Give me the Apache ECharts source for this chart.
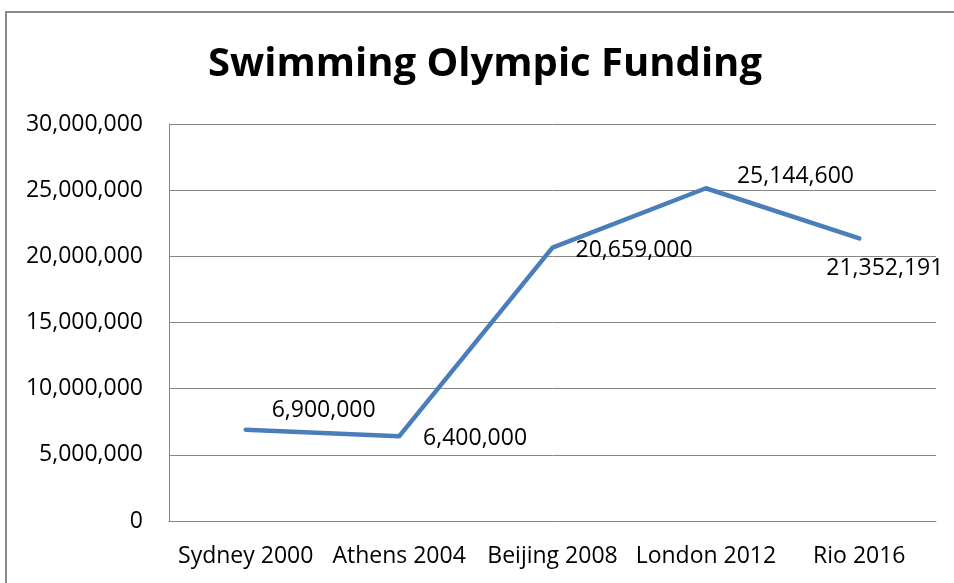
<!DOCTYPE html>
<html>
<head>
<meta charset="utf-8">
<script src="https://cdn.jsdelivr.net/npm/echarts@6/dist/echarts.min.js"></script>
<style>
  html, body { margin: 0; padding: 0; background: #fff; }
  #chart { width: 954px; height: 583px; }
</style>
</head>
<body>
<div id="chart"></div>
<script>
// Olympic cycles and swimming funding (GBP)
const games = ['Sydney 2000', 'Athens 2004', 'Beijing 2008', 'London 2012', 'Rio 2016'];
const funding = [6900000, 6400000, 20659000, 25144600, 21352191];
// Where each value label sits relative to its point
const labelOffsets = [[25, -19], [23, 2], [22, 3], [30, -12], [-34, 30]];

const fmt = v => Number(v).toLocaleString('en-US');
const font = '"Open Sans", "DejaVu Sans", sans-serif';

const chart = echarts.init(document.getElementById('chart'), null, { renderer: 'canvas' });
chart.setOption({
  animation: false,
  backgroundColor: '#ffffff',
  title: {
    text: 'Swimming Olympic Funding',
    left: 208,
    top: 45,
    padding: 0,
    textStyle: { fontFamily: font, fontSize: 40, fontWeight: 'bold', color: '#000' }
  },
  graphic: [{
    type: 'rect',
    shape: { x: 6, y: 12, width: 1000, height: 700 },
    style: { fill: 'none', stroke: '#8a8a8a', lineWidth: 2 },
    silent: true
  }],
  grid: { left: 169, right: 18, top: 124, bottom: 62, containLabel: false },
  xAxis: {
    type: 'category',
    data: games,
    boundaryGap: true,
    axisLine: { lineStyle: { color: '#868686', width: 1 } },
    axisTick: { show: false },
    axisLabel: { color: '#000', fontFamily: font, fontSize: 23, margin: 24, interval: 0 }
  },
  yAxis: {
    type: 'value',
    min: 0,
    max: 30000000,
    interval: 5000000,
    axisLine: { show: true, lineStyle: { color: '#868686', width: 1 } },
    axisTick: { show: false },
    splitLine: { lineStyle: { color: '#868686', width: 1 } },
    axisLabel: { color: '#000', fontFamily: font, fontSize: 23, margin: 26, formatter: fmt }
  },
  series: [{
    type: 'line',
    data: funding.map((v, i) => ({
      value: v,
      label: { offset: labelOffsets[i] }
    })),
    symbol: 'circle',
    symbolSize: 2,
    showSymbol: true,
    itemStyle: { color: '#4a7ebb' },
    lineStyle: { color: '#4a7ebb', width: 4.5, cap: 'round', join: 'round' },
    label: {
      show: true,
      position: 'right',
      distance: 0,
      color: '#000',
      fontFamily: font,
      fontSize: 23,
      formatter: p => fmt(p.value)
    }
  }]
});
</script>
</body>
</html>
